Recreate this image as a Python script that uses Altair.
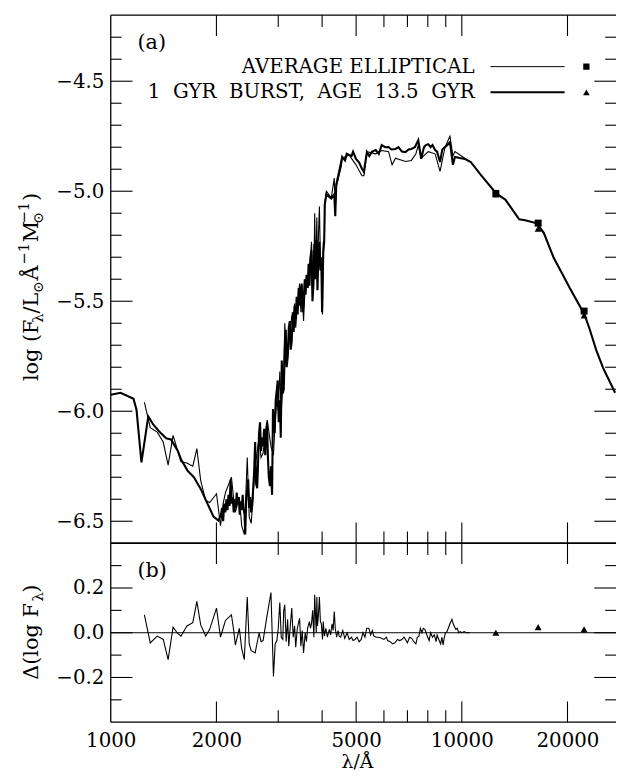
import altair as alt
import pandas as pd

FONT = "DejaVu Serif"

# ---------------- data ----------------
# 1 Gyr burst model, age 13.5 Gyr (thick line)
model_lam = [1000, 1067, 1161, 1184, 1223, 1279, 1321, 1374, 1438, 1485, 1554, 1585, 1658, 1724, 1804,
             1887, 1962, 2026, 2060, 2075, 2090, 2105, 2120, 2135, 2150, 2165, 2180, 2195, 2210, 2225,
             2240, 2255, 2270, 2285, 2300, 2315, 2330, 2345, 2360, 2375, 2390, 2405, 2416, 2430, 2445,
             2463, 2480, 2495, 2510, 2529, 2545, 2560, 2578, 2595, 2613, 2630, 2645, 2662, 2680, 2700,
             2716, 2735, 2755, 2770, 2788, 2805, 2820, 2841, 2860, 2881, 2898, 2930, 2950, 2973, 2990,
             3010, 3031, 3050, 3070, 3090, 3111, 3130, 3152, 3170, 3194, 3215, 3236, 3255, 3278, 3300,
             3320, 3343, 3365, 3385, 3407, 3430, 3450, 3473, 3500, 3520, 3542, 3570, 3590, 3611, 3640,
             3660, 3682, 3705, 3731, 3755, 3780, 3800, 3830, 3855, 3880, 3905, 3930, 3955, 3981, 4000,
             4030, 4055, 4070, 4113, 4248, 4332, 4360, 4389, 4533, 4563, 4650, 4700, 4775, 4850, 4900,
             4995, 5100, 5194, 5262, 5366, 5450, 5550, 5687, 5800, 5913, 6050, 6186, 6300, 6476, 6600,
             6750, 6910, 7050, 7183, 7350, 7516, 7663, 7800, 7900, 8023, 8150, 8250, 8394, 8500, 8670,
             8800, 8958, 9100, 9252, 9433, 9557, 10197, 10602, 11311, 12551, 13303, 14571, 15149, 16374,
             17133, 18281, 19256, 20282, 22359, 23096, 24165, 25278, 27332]
model_logf = [-5.925, -5.916, -5.943, -5.993, -6.232, -6.024, -6.060, -6.092, -6.123, -6.128, -6.182, -6.218,
              -6.272, -6.299, -6.353, -6.421, -6.479, -6.497, -6.47, -6.44, -6.50, -6.42, -6.46, -6.40,
              -6.45, -6.38, -6.43, -6.31, -6.42, -6.39, -6.46, -6.40, -6.44, -6.37, -6.42, -6.39, -6.47,
              -6.41, -6.45, -6.38, -6.44, -6.47, -6.56, -6.42, -6.36, -6.31, -6.44, -6.39, -6.46, -6.43,
              -6.35, -6.28, -6.14, -6.33, -6.35, -6.22, -6.10, -6.05, -6.18, -6.12, -6.16, -6.08, -6.20,
              -6.10, -6.05, -6.22, -6.30, -6.34, -6.25, -6.38, -5.99, -6.10, -5.95, -5.90, -5.86,
              -6.05, -5.95, -6.12, -5.77, -5.92, -5.90, -5.72, -5.63, -5.80, -5.75, -5.62, -5.59, -5.72,
              -5.68, -5.55, -5.64, -5.52, -5.58, -5.48, -5.56, -5.44, -5.52, -5.45, -5.42, -5.55, -5.50,
              -5.40, -5.47, -5.38, -5.44, -5.33, -5.43, -5.30, -5.27, -5.50, -5.42, -5.24, -5.40, -5.22,
              -5.45, -5.28, -5.23, -5.36, -5.34, -5.55, -5.28, -5.23, -5.06, -5.015, -5.033, -5.015,
              -5.114, -4.970, -4.867, -4.844, -4.86, -4.83, -4.835, -4.84, -4.82, -4.853, -4.87, -4.898,
              -4.912, -4.822, -4.84, -4.82, -4.813, -4.83, -4.790, -4.80, -4.799, -4.81, -4.808, -4.80,
              -4.82, -4.822, -4.81, -4.808, -4.80, -4.768, -4.853, -4.80, -4.79, -4.786, -4.80, -4.79,
              -4.813, -4.82, -4.867, -4.81, -4.799, -4.79, -4.777, -4.880, -4.844, -4.853, -4.867, -4.925,
              -5.011, -5.038, -5.128, -5.132, -5.146, -5.19, -5.304, -5.371, -5.439, -5.56, -5.624,
              -5.723, -5.804, -5.916]

# average elliptical (thin line)
ell_lam = [1247, 1296, 1356, 1411, 1457, 1505, 1545, 1585, 1648, 1713, 1759, 1804, 1864, 1913, 2001,
           2054, 2090, 2122, 2207, 2240, 2264, 2324, 2360, 2401, 2448, 2480, 2512, 2578, 2646, 2680,
           2716, 2790, 2860, 2907, 2940, 2973, 3000, 3031, 3060, 3091, 3110, 3131, 3160, 3190, 3214,
           3250, 3278, 3310, 3340, 3364, 3400, 3451, 3480, 3510, 3542, 3580, 3610, 3636, 3680, 3705,
           3731, 3760, 3790, 3810, 3830, 3850, 3865, 3880, 3905, 3930, 3955, 3981, 4010, 4030, 4060,
           4070, 4113, 4248, 4332, 4360, 4389, 4533, 4563, 4775, 4995, 5194, 5262, 5366, 5687, 5913,
           6186, 6330, 6476, 6910, 7183, 7400, 7516, 7663, 8023, 8394, 8670, 8958, 9252, 9433, 9557,
           10197, 10532]
ell_logf = [-5.96, -6.075, -6.095, -6.14, -6.245, -6.11, -6.17, -6.23, -6.235, -6.25, -6.17, -6.315,
            -6.405, -6.415, -6.375, -6.52, -6.42, -6.37, -6.30, -6.40, -6.46, -6.39, -6.52, -6.56,
            -6.21, -6.48, -6.51, -6.25, -6.12, -6.21, -6.19, -6.04, -6.16, -6.20, -6.05, -5.94, -6.00,
            -5.82, -6.00, -5.88, -5.85, -5.60, -5.75, -5.70, -5.68, -5.62, -5.57, -5.58, -5.51, -5.62,
            -5.52, -5.42, -5.55, -5.47, -5.59, -5.43, -5.42, -5.40, -5.34, -5.30, -5.23, -5.38, -5.38,
            -5.10, -5.32, -5.24, -5.12, -5.41, -5.20, -5.07, -5.31, -5.30, -5.56, -5.23, -5.24, -5.06,
            -5.00, -5.03, -4.94, -5.09, -4.98, -4.89, -4.85, -4.835, -4.88, -4.93, -4.93, -4.82, -4.83,
            -4.815, -4.82, -4.88, -4.85, -4.865, -4.86, -4.83, -4.79, -4.85, -4.82, -4.83, -4.91,
            -4.80, -4.75, -4.84, -4.82, -4.85, -4.865]

# residuals Delta(log F_lambda)
res_lam = [1247, 1296, 1356, 1411, 1457, 1505, 1545, 1585, 1648, 1713, 1759, 1804, 1864, 1913, 2001,
           2054, 2090, 2122, 2207, 2240, 2264, 2324, 2360, 2401, 2448, 2480, 2512, 2578, 2646, 2680,
           2716, 2790, 2860, 2907, 2940, 2973, 3000, 3031, 3060, 3091, 3110, 3131, 3160, 3190, 3214,
           3250, 3278, 3310, 3340, 3364, 3400, 3451, 3480, 3510, 3542, 3580, 3610, 3636, 3680, 3705,
           3731, 3760, 3790, 3810, 3830, 3850, 3865, 3880, 3905, 3930, 3955, 3981, 4010, 4030, 4060,
           4100, 4140, 4194, 4230, 4270, 4300, 4332, 4360, 4400, 4440, 4474, 4520, 4580, 4640, 4713,
           4780, 4850, 4900, 4964, 5030, 5100, 5170, 5230, 5297, 5360, 5436, 5500, 5560, 5615, 5700,
           5800, 5900, 6000, 6100, 6148, 6250, 6350, 6450, 6559, 6650, 6750, 6850, 6999, 7100, 7200,
           7300, 7400, 7467, 7550, 7620, 7700, 7766, 7850, 7950, 8072, 8150, 8250, 8350, 8450, 8504,
           8600, 8700, 8780, 8841, 8920, 8980, 9072, 9150, 9250, 9372, 9450, 9550, 9618, 9700, 9800,
           9900, 10000, 10150, 10300, 10532]
res_val = [0.08, -0.045, -0.015, -0.03, -0.12, 0.025, 0.0, -0.015, 0.03, 0.045, 0.14, 0.035, -0.015,
           0.015, 0.11, -0.02, 0.02, 0.055, 0.08, 0.01, -0.055, 0.02, -0.07, -0.12, 0.16, -0.05, -0.08,
           -0.09, 0.0, -0.04, -0.035, 0.08, 0.18, -0.195, -0.05, -0.035, 0.02, 0.135, -0.02, -0.03,
           0.10, 0.125, -0.04, 0.06, -0.06, 0.04, 0.11, -0.02, 0.03, -0.065, 0.02, 0.065, -0.06, 0.01,
           -0.09, 0.0, -0.04, 0.02, 0.05, 0.02, 0.04, 0.10, -0.02, 0.17, 0.08, 0.0, 0.16, 0.03, 0.08,
           0.16, 0.05, 0.04, -0.03, 0.05, -0.015, 0.02, -0.02, 0.015, -0.01, 0.04, 0.01, 0.095, 0.02,
           -0.02, 0.01, -0.015, -0.02, 0.01, -0.025, 0.0, -0.03, -0.02, -0.035, -0.03, -0.02, -0.04,
           -0.03, 0.0, -0.02, 0.02, 0.02, -0.01, 0.01, -0.015, -0.02, -0.02, -0.025, -0.03, -0.02,
           -0.035, -0.04, -0.05, -0.045, -0.03, -0.035, -0.03, -0.02, -0.045, -0.02, -0.025, -0.04,
           -0.05, -0.02, -0.015, 0.02, 0.0, 0.02, 0.015, -0.01, -0.035, 0.0, -0.02, -0.01, -0.04,
           -0.01, -0.03, -0.05, -0.02, -0.055, -0.02, 0.0, 0.005, 0.02, 0.04, 0.06, 0.04, 0.025, 0.015,
           0.02, 0.0, 0.005, 0.0, 0.005, 0.0, 0.0]

# J, H, K photometry
phot_lam = [12500, 16500, 22300]
ell_phot = [-5.01, -5.145, -5.545]
model_phot = [-5.015, -5.17, -5.565]
res_phot = [0.0, 0.025, 0.015]

# axis ticks / labels
ytop_labels = [-6.5, -6.0, -5.5, -5.0, -4.5]
ytop_minor = [-6.4, -6.3, -6.2, -6.1, -5.9, -5.8, -5.7, -5.6, -5.4, -5.3, -5.2, -5.1,
              -4.9, -4.8, -4.7, -4.6, -4.4, -4.3]
ybot_labels = [-0.2, 0.0, 0.2]
ybot_minor = [-0.3, -0.1, 0.1, 0.3]
x_labels = [1000, 2000, 5000, 10000, 20000]
x_major = [2000, 5000, 10000, 20000]
x_minor = [3000, 4000, 6000, 7000, 8000, 9000]

# ---------------- layout ----------------
W = 511
H_TOP = 534
H_BOT = 181
MAJ, MIN = 22, 11
LBL = 20
SP = " \u00a0"  # wide word space as in the original typesetting

xscale = alt.Scale(type="log", domain=[1000, 27500], nice=False)
ytop = alt.Scale(domain=[-6.6, -4.2], nice=False, zero=False)
ybot = alt.Scale(domain=[-0.4, 0.4], nice=False, zero=False)

ax_ytop = alt.Axis(values=ytop_labels, format=".1f", title=None, ticks=False, domain=False, grid=False,
                   labelFont=FONT, labelFontSize=LBL, labelPadding=7, labelColor="black")
ax_ybot = alt.Axis(values=ybot_labels, format=".1f", title=None, ticks=False, domain=False, grid=False,
                   labelFont=FONT, labelFontSize=LBL, labelPadding=7, labelColor="black")
ax_xbot = alt.Axis(values=x_labels, format="d", title="λ/Å", ticks=False, domain=False, grid=False,
                   labelFont=FONT, labelFontSize=LBL, labelPadding=9, labelColor="black",
                   labelFlush=False, labelOverlap=False, titleFont=FONT, titleFontSize=19,
                   titleFontWeight="normal", titleColor="black", titlePadding=2, titleX=249)

one = pd.DataFrame({"k": [0]})


def txt(text, x, y, size=18, align="left", baseline="middle", angle=None, dy=None):
    kw = dict(text=text, font=FONT, fontSize=size, align=align, baseline=baseline, color="black")
    if angle is not None:
        kw["angle"] = angle
    if dy is not None:
        kw["dy"] = dy
    return alt.Chart(one).mark_text(**kw).encode(x=alt.value(x), y=alt.value(y))


def hrule(x0, x1, y, w=1.3):
    return alt.Chart(one).mark_rule(color="black", strokeWidth=w).encode(
        x=alt.value(x0), x2=alt.value(x1), y=alt.value(y))


def vrule(x, y0, y1, w=1.3):
    return alt.Chart(one).mark_rule(color="black", strokeWidth=w).encode(
        x=alt.value(x), y=alt.value(y0), y2=alt.value(y1))


def yticks(vals, scale, axis, length):
    df = pd.DataFrame({"v": vals})
    left = alt.Chart(df).mark_rule(color="black", strokeWidth=1.1).encode(
        y=alt.Y("v:Q", scale=scale, axis=axis), x=alt.value(0), x2=alt.value(length))
    right = alt.Chart(df).mark_rule(color="black", strokeWidth=1.1).encode(
        y=alt.Y("v:Q", scale=scale, axis=axis), x=alt.value(W - length), x2=alt.value(W))
    return [left, right]


def xticks(vals, axis, length, H):
    df = pd.DataFrame({"t": vals})
    top = alt.Chart(df).mark_rule(color="black", strokeWidth=1.1).encode(
        x=alt.X("t:Q", scale=xscale, axis=axis), y=alt.value(0), y2=alt.value(length))
    bot = alt.Chart(df).mark_rule(color="black", strokeWidth=1.1).encode(
        x=alt.X("t:Q", scale=xscale, axis=axis), y=alt.value(H - length), y2=alt.value(H))
    return [top, bot]


# ---------------- top panel ----------------
df_model = pd.DataFrame({"lam": model_lam, "f": model_logf})
df_ell = pd.DataFrame({"lam": ell_lam, "f": ell_logf})
df_phot = pd.DataFrame({"lam": phot_lam, "ell": ell_phot, "mod": model_phot, "res": res_phot})
df_res = pd.DataFrame({"lam": res_lam, "r": res_val})

thick = alt.Chart(df_model).mark_line(color="black", strokeWidth=2.1).encode(
    x=alt.X("lam:Q", scale=xscale, axis=None), y=alt.Y("f:Q", scale=ytop, axis=ax_ytop))
thin = alt.Chart(df_ell).mark_line(color="black", strokeWidth=1.1).encode(
    x=alt.X("lam:Q", scale=xscale, axis=None), y=alt.Y("f:Q", scale=ytop, axis=ax_ytop))
squares = alt.Chart(df_phot).mark_point(shape="square", filled=True, color="black", size=50, opacity=1).encode(
    x=alt.X("lam:Q", scale=xscale, axis=None), y=alt.Y("ell:Q", scale=ytop, axis=ax_ytop))
tris = alt.Chart(df_phot).mark_point(shape="triangle-up", filled=True, color="black", size=50, opacity=1).encode(
    x=alt.X("lam:Q", scale=xscale, axis=None), y=alt.Y("mod:Q", scale=ytop, axis=ax_ytop))

leg_sq = alt.Chart(one).mark_point(shape="square", filled=True, color="black", size=40, opacity=1).encode(
    x=alt.value(481), y=alt.value(52))
leg_tr = alt.Chart(one).mark_point(shape="triangle-up", filled=True, color="black", size=45, opacity=1).encode(
    x=alt.value(481), y=alt.value(78))

# y-axis title with sub/superscripts (rotated pieces)
TX = -74
title_top = [
    txt("log (F", TX, 370, 21, baseline="alphabetic", angle=270),
    txt("λ", TX, 311, 15, baseline="alphabetic", angle=270, dy=5),
    txt("/L", TX, 301.7, 21, baseline="alphabetic", angle=270),
    txt("⊙", TX, 280.6, 14, baseline="alphabetic", angle=270, dy=5),
    txt("Å", TX, 268.4, 21, baseline="alphabetic", angle=270),
    txt("−1", TX, 252.4, 15, baseline="alphabetic", angle=270, dy=-9),
    txt("M", TX, 229.6, 21, baseline="alphabetic", angle=270),
    txt("⊙", TX, 210.7, 14, baseline="alphabetic", angle=270, dy=5),
    txt("−1", TX, 210.7, 15, baseline="alphabetic", angle=270, dy=-9),
    txt(")", TX, 187.9, 21, baseline="alphabetic", angle=270),
]

top_layers = [thin, thick, squares, tris]
top_layers += yticks(ytop_labels, ytop, ax_ytop, MAJ) + yticks(ytop_minor, ytop, ax_ytop, MIN)
top_layers += xticks(x_major, None, 21, H_TOP) + xticks(x_minor, None, 12, H_TOP)
top_layers += [hrule(0, W, 0), hrule(0, W, H_TOP), vrule(0, 0, H_TOP)]
top_layers += [
    txt("(a)", 27, 28, 21),
    txt("AVERAGE ELLIPTICAL", 368, 52, 20, align="right"),
    txt(SP.join(["1", "GYR", "BURST,", "AGE", "13.5", "GYR"]), 368, 78, 20, align="right"),
    hrule(384, 459, 52, 1.0), hrule(384, 459, 78, 2.0), leg_sq, leg_tr,
]
top_layers += title_top
top = alt.layer(*top_layers).properties(width=W, height=H_TOP)

# ---------------- bottom panel ----------------
zero = alt.Chart(pd.DataFrame({"z": [0.0]})).mark_rule(color="black", strokeWidth=1.0).encode(
    y=alt.Y("z:Q", scale=ybot, axis=ax_ybot), x=alt.value(0), x2=alt.value(W))
resline = alt.Chart(df_res).mark_line(color="black", strokeWidth=1.1).encode(
    x=alt.X("lam:Q", scale=xscale, axis=ax_xbot), y=alt.Y("r:Q", scale=ybot, axis=ax_ybot))
restri = alt.Chart(df_phot).mark_point(shape="triangle-up", filled=True, color="black", size=50, opacity=1).encode(
    x=alt.X("lam:Q", scale=xscale, axis=ax_xbot), y=alt.Y("res:Q", scale=ybot, axis=ax_ybot))

title_bot = [
    txt("Δ(log F", TX, 138, 21, baseline="alphabetic", angle=270),
    txt("λ", TX, 59, 15, baseline="alphabetic", angle=270, dy=5),
    txt(")", TX, 50, 21, baseline="alphabetic", angle=270),
]

bot_layers = [zero, resline, restri]
bot_layers += yticks(ybot_labels, ybot, ax_ybot, MAJ) + yticks(ybot_minor, ybot, ax_ybot, MIN)
bot_layers += xticks(x_major, ax_xbot, 21, H_BOT) + xticks(x_minor, ax_xbot, 12, H_BOT)
bot_layers += [hrule(0, W, 0), hrule(0, W, H_BOT), vrule(0, 0, H_BOT)]
bot_layers += [txt("(b)", 27, 28, 21)]
bot_layers += title_bot
bot = alt.layer(*bot_layers).properties(width=W, height=H_BOT)

chart = alt.vconcat(top, bot, spacing=0, bounds="flush").configure_view(stroke=None).properties(
    padding={"left": 16, "top": 10, "right": 0, "bottom": 0}, background="white")

chart.save("out.html", embed_options={"renderer": "svg", "actions": False})
